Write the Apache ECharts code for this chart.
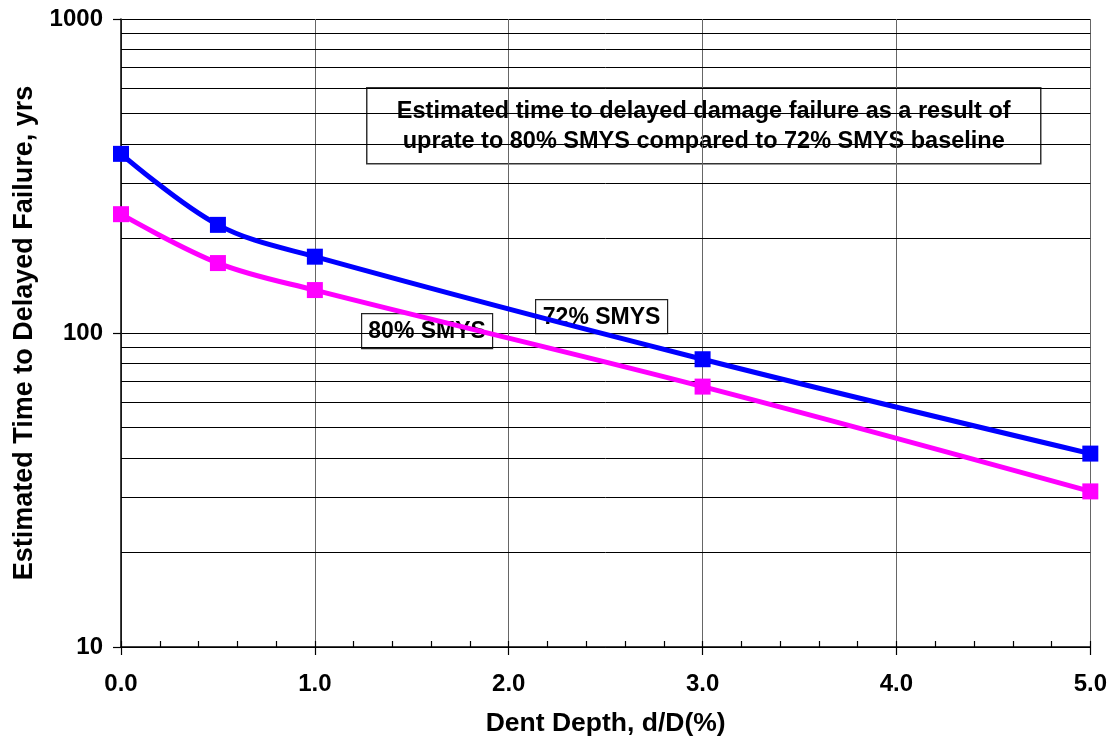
<!DOCTYPE html>
<html>
<head>
<meta charset="utf-8">
<script src="https://cdn.jsdelivr.net/npm/echarts@6/dist/echarts.min.js"></script>
<style>
  html, body { margin: 0; padding: 0; background: #fff; }
  #chart { width: 1110px; height: 742px; }
</style>
</head>
<body>
<div id="chart"></div>
<script>
// Dent depth (% of diameter) and estimated time to delayed failure (years)
const dentDepth = [0, 0.5, 1, 3, 5];
const smys72 = [372, 221, 175, 82.5, 41.3];
const smys80 = [239, 167, 137, 67.5, 31.3];

// Axis ranges and gridline values
const xRange = [0, 5];
const yRange = [10, 1000];
const yMinorGrid = [20, 30, 40, 50, 60, 70, 80, 90, 200, 300, 400, 500, 600, 700, 800, 900];

const seriesNames = ['72% SMYS', '80% SMYS'];
const noteLines = [
  'Estimated time to delayed damage failure as a result of',
  'uprate to 80% SMYS compared to 72% SMYS baseline'
];

const FONT = '"Liberation Sans", Arial, Helvetica, sans-serif';

function pairs(xs, ys) {
  return xs.map((x, i) => [x, ys[i]]);
}

function boxedLabel(text, x, y, w, h) {
  return {
    type: 'group',
    left: x,
    top: y,
    z: 20,
    children: [
      {
        type: 'rect',
        shape: { x: 0, y: 0, width: w, height: h },
        style: { fill: '#fff', stroke: '#222', lineWidth: 1.2 }
      },
      {
        type: 'text',
        x: w / 2,
        y: h / 2 + 1,
        style: {
          text: text,
          fill: '#000',
          font: 'bold 23px ' + FONT,
          align: 'center',
          verticalAlign: 'middle'
        }
      }
    ]
  };
}

const chart = echarts.init(document.getElementById('chart'), null, { renderer: 'canvas' });

chart.setOption({
  animation: false,
  backgroundColor: '#fff',
  textStyle: { fontFamily: FONT },
  grid: { left: 121, right: 18, top: 19, bottom: 94, containLabel: false },
  xAxis: [
    {
      type: 'value',
      min: xRange[0],
      max: xRange[1],
      interval: 1,
      name: 'Dent Depth, d/D(%)',
      nameLocation: 'middle',
      nameGap: 63,
      nameTextStyle: { fontSize: 26.5, fontWeight: 'bold', color: '#000', fontFamily: FONT },
      axisLine: { show: true, onZero: false, lineStyle: { color: '#000', width: 1.5 } },
      axisTick: { show: true, inside: false, length: 8, lineStyle: { color: '#000', width: 1.2 } },
      axisLabel: {
        margin: 25,
        fontSize: 24,
        fontWeight: 'bold',
        color: '#000',
        fontFamily: FONT,
        formatter: v => v.toFixed(1)
      },
      splitLine: { show: true, lineStyle: { color: '#666', width: 1 } }
    },
    {
      // inner minor ticks along the bottom axis
      type: 'value',
      position: 'bottom',
      min: xRange[0],
      max: xRange[1],
      interval: 0.2,
      axisLine: { show: false },
      axisTick: { show: true, inside: true, length: 6, lineStyle: { color: '#000', width: 1.2 } },
      axisLabel: { show: false },
      splitLine: { show: false }
    }
  ],
  yAxis: {
    type: 'log',
    logBase: 10,
    min: yRange[0],
    max: yRange[1],
    name: 'Estimated Time to Delayed Failure, yrs',
    nameLocation: 'middle',
    nameGap: 83,
    nameTextStyle: { fontSize: 27, fontWeight: 'bold', color: '#000', fontFamily: FONT },
    axisLine: { show: true, lineStyle: { color: '#000', width: 1.5 } },
    axisTick: { show: true, inside: false, length: 8, lineStyle: { color: '#000', width: 1.2 } },
    axisLabel: {
      margin: 18,
      fontSize: 24,
      fontWeight: 'bold',
      color: '#000',
      fontFamily: FONT,
      formatter: v => String(Math.round(v))
    },
    splitLine: { show: true, lineStyle: { color: '#000', width: 1 } }
  },
  series: [
    {
      // minor horizontal gridlines at 2..9 of each decade
      type: 'line',
      xAxisIndex: 0,
      data: [],
      silent: true,
      z: 1,
      markLine: {
        silent: true,
        symbol: ['none', 'none'],
        label: { show: false },
        z: 1,
        animation: false,
        lineStyle: { color: '#000', width: 1, type: 'solid' },
        emphasis: { disabled: true },
        data: yMinorGrid.map(v => ({ yAxis: v }))
      }
    },
    {
      name: seriesNames[0],
      type: 'line',
      xAxisIndex: 0,
      data: pairs(dentDepth, smys72),
      smooth: 0.35,
      clip: false,
      z: 5,
      symbol: 'rect',
      symbolSize: 16,
      itemStyle: { color: '#0000ff' },
      lineStyle: { color: '#0000ff', width: 5 }
    },
    {
      name: seriesNames[1],
      type: 'line',
      xAxisIndex: 0,
      data: pairs(dentDepth, smys80),
      smooth: 0.35,
      clip: false,
      z: 4,
      symbol: 'rect',
      symbolSize: 16,
      itemStyle: { color: '#ff00ff' },
      lineStyle: { color: '#ff00ff', width: 5 }
    }
  ],
  graphic: [
    {
      type: 'group',
      left: 366,
      top: 87,
      z: 20,
      children: [
        {
          type: 'rect',
          shape: { x: 0, y: 0, width: 674, height: 76 },
          style: { fill: '#fff', stroke: '#333', lineWidth: 1.5 }
        },
        {
          type: 'text',
          x: 337,
          y: 39,
          style: {
            text: noteLines.join('\n'),
            fill: '#000',
            font: 'bold 23.5px ' + FONT,
            lineHeight: 30,
            align: 'center',
            verticalAlign: 'middle'
          }
        }
      ]
    },
    boxedLabel(seriesNames[0], 535, 299, 132, 34),
    boxedLabel(seriesNames[1], 361, 313, 131, 35)
  ]
});
</script>
</body>
</html>
